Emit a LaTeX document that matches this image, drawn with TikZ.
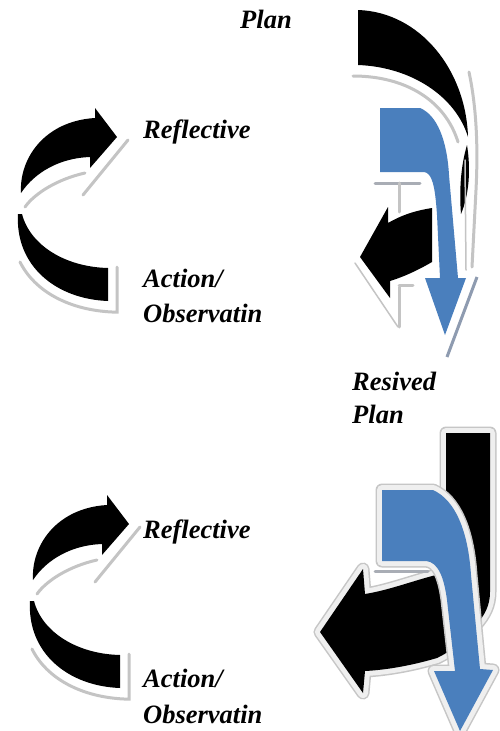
\documentclass[tikz,border=0pt]{standalone}
\usepackage{fontspec}
\setmainfont{Liberation Serif}
\definecolor{arrowblue}{HTML}{4A7FBD}
\definecolor{shadowgray}{HTML}{C4C4C4}
\definecolor{midgray}{HTML}{A9ADB5}
\definecolor{rimgray}{HTML}{C6C6C6}
\definecolor{rimlight}{HTML}{EFEFEF}
\definecolor{headshadow}{HTML}{8E9BB0}
\tikzset{
  lbl/.style={anchor=base west, inner sep=0pt, font=\fontsize{26.5}{30}\selectfont\bfseries\itshape},
  shadeline/.style={draw=shadowgray, line width=3pt, line cap=round},
  thinshade/.style={draw=shadowgray, line width=1.5pt, line cap=round},
  midline/.style={draw=midgray, line width=3pt, line cap=round},
}
\newcommand{\mycyclearrow}{%
  \fill[black] (21,193) .. controls (19,158) and (45,121) .. (95,118) -- (95,108) -- (117,137) -- (90,168) -- (90,157) .. controls (60,158) and (35,172) .. (21,193) -- cycle;
  \draw[shadeline] (25,207) .. controls (35,193) and (58,179) .. (85,173);
  \draw[shadeline] (83,195) -- (128,140);
  \fill[black] (18,214) .. controls (15,265) and (55,299) .. (108,301) -- (108,268) .. controls (65,267) and (30,245) .. (22,214) -- cycle;
  \draw[shadeline] (20,262) .. controls (35,292) and (70,310) .. (112,312) -- (117,312) -- (117,267);
}
\begin{document}
\begin{tikzpicture}[x=1pt,y=-1pt]
\useasboundingbox (0,0) rectangle (500,731);
\fill[white] (0,0) rectangle (500,731);

% ---------- left cycle arrows ----------
\begin{scope}
  \mycyclearrow
\end{scope}
\begin{scope}[shift={(12,387)}]
  \mycyclearrow
\end{scope}

% ---------- top right arrows ----------
\fill[black] (358,10) .. controls (420,12) and (466,70) .. (468,137) .. controls (456,97) and (412,67) .. (358,65) -- cycle;
\draw[shadeline] (353,76) .. controls (405,76) and (445,100) .. (458,142);
\draw[shadeline] (469,72) .. controls (477,110) and (478,150) .. (476,190) -- (472,267);
\fill[black] (467,145) .. controls (471,170) and (469,195) .. (461,214) .. controls (459,190) and (461,165) .. (467,145) -- cycle;
\draw[thinshade] (465,160) -- (466,270);
\fill[black] (360,257) -- (388,207) -- (388,223) .. controls (400,216) and (413,211) .. (432,208) -- (432,262) .. controls (415,272) and (400,278) .. (390,281) -- (390,298) -- cycle;
\draw[thinshade] (355,263) -- (398,327);
\draw[shadeline] (399,287) -- (399,327);
\draw[shadeline] (399,285) -- (413,285);
\draw[midline] (375,183) -- (420,183);
\draw[shadeline] (399,183) -- (399,212);
\draw[white, line width=6pt, line join=round] (380,108) -- (420,108) .. controls (437,115) and (447,140) .. (449,175) -- (458,278) -- (466,278) -- (445,335) -- (425,278) -- (440,278) -- (437,215) .. controls (435,185) and (432,173) .. (424,172) -- (380,172) -- cycle;
\fill[arrowblue] (380,108) -- (420,108) .. controls (437,115) and (447,140) .. (449,175) -- (458,278) -- (466,278) -- (445,335) -- (425,278) -- (440,278) -- (437,215) .. controls (435,185) and (432,173) .. (424,172) -- (380,172) -- cycle;
\draw[headshadow, line width=3pt] (477,277) -- (447,357);

% ---------- bottom right arrows ----------
\draw[rimgray, line width=13pt, line join=round] (446,433) -- (490,433) -- (490,592) .. controls (490,605) and (485,615) .. (476,625) .. controls (465,640) and (450,652) .. (437,658) .. controls (410,666) and (385,670) .. (365,671) -- (363,693) -- (320,632) -- (363,569) -- (365,594) .. controls (390,590) and (415,580) .. (440,574) -- (446,560) -- cycle;
\draw[rimlight, line width=10pt, line join=round] (446,433) -- (490,433) -- (490,592) .. controls (490,605) and (485,615) .. (476,625) .. controls (465,640) and (450,652) .. (437,658) .. controls (410,666) and (385,670) .. (365,671) -- (363,693) -- (320,632) -- (363,569) -- (365,594) .. controls (390,590) and (415,580) .. (440,574) -- (446,560) -- cycle;
\fill[black] (446,433) -- (490,433) -- (490,592) .. controls (490,605) and (485,615) .. (476,625) .. controls (465,640) and (450,652) .. (437,658) .. controls (410,666) and (385,670) .. (365,671) -- (363,693) -- (320,632) -- (363,569) -- (365,594) .. controls (390,590) and (415,580) .. (440,574) -- (446,560) -- cycle;
\draw[rimgray, line width=13pt, line join=round] (382,490) -- (433,490) .. controls (455,500) and (468,530) .. (471,575) -- (480,669) -- (493,670) -- (460,731) -- (434,671) -- (455,671) -- (447,600) .. controls (444,577) and (438,562) .. (426,561) -- (382,561) -- cycle;
\draw[rimlight, line width=10pt, line join=round] (382,490) -- (433,490) .. controls (455,500) and (468,530) .. (471,575) -- (480,669) -- (493,670) -- (460,731) -- (434,671) -- (455,671) -- (447,600) .. controls (444,577) and (438,562) .. (426,561) -- (382,561) -- cycle;
\fill[arrowblue] (382,490) -- (433,490) .. controls (455,500) and (468,530) .. (471,575) -- (480,669) -- (493,670) -- (460,731) -- (434,671) -- (455,671) -- (447,600) .. controls (444,577) and (438,562) .. (426,561) -- (382,561) -- cycle;
\draw[midline] (375,571) -- (428,571);

% ---------- labels ----------
\node[lbl] (plantop) at (240,28) {Plan};
\node[lbl] (reflone) at (143,138) {Reflective};
\node[lbl] (actone) at (143,287) {Action/};
\node[lbl] (obsone) at (143,322) {Observatin};
\node[lbl] (resived) at (352,390) {Resived};
\node[lbl] (planrev) at (352,423) {Plan};
\node[lbl] (refltwo) at (143,538) {Reflective};
\node[lbl] (acttwo) at (143,687) {Action/};
\node[lbl] (obstwo) at (143,723) {Observatin};
\end{tikzpicture}
\end{document}
